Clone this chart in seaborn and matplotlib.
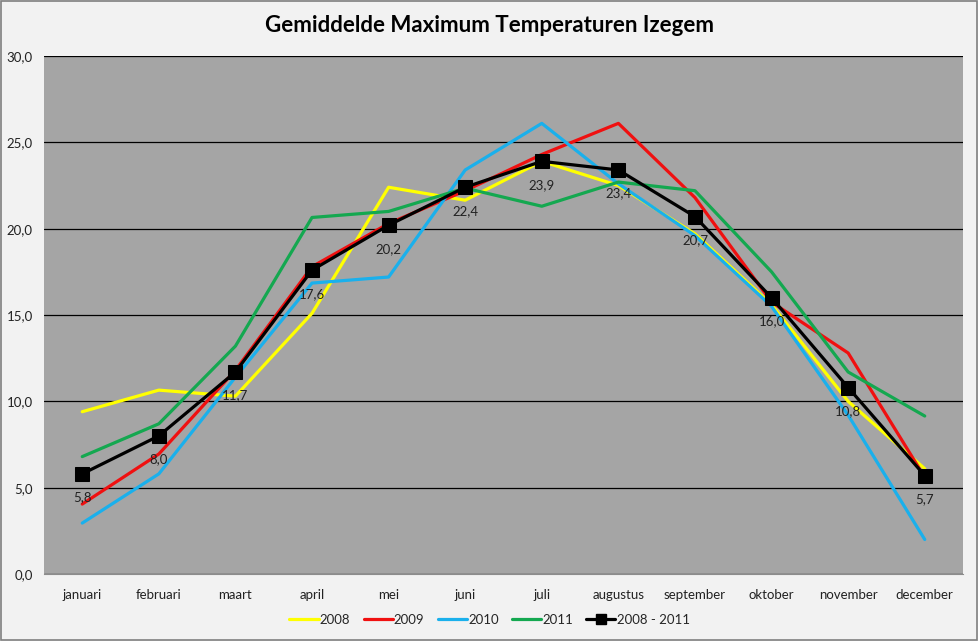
import pandas as pd
import seaborn as sns
import matplotlib.pyplot as plt
from matplotlib.patches import Rectangle

months = ["januari", "februari", "maart", "april", "mei", "juni", "juli",
          "augustus", "september", "oktober", "november", "december"]
t2008 = [9.4, 10.65, 10.3, 15.1, 22.4, 21.65, 23.9, 22.5, 19.7, 15.6, 10.0, 6.1]
t2009 = [4.05, 6.95, 11.8, 17.8, 20.3, 22.2, 24.3, 26.1, 21.8, 15.75, 12.8, 5.6]
t2010 = [2.95, 5.8, 11.4, 16.85, 17.2, 23.4, 26.1, 22.6, 19.6, 15.5, 9.2, 2.0]
t2011 = [6.8, 8.7, 13.2, 20.65, 21.0, 22.35, 21.3, 22.7, 22.2, 17.5, 11.7, 9.15]
avg = [5.8, 8.0, 11.7, 17.6, 20.2, 22.4, 23.9, 23.4, 20.7, 16.0, 10.8, 5.7]

series = {"2008": t2008, "2009": t2009, "2010": t2010, "2011": t2011}
colors = {"2008": "#FFFF00", "2009": "#F01010", "2010": "#1AB0EC", "2011": "#14A850"}

rows = []
for name, vals in series.items():
    for i, v in enumerate(vals):
        rows.append({"pos": i, "temp": v, "serie": name})
df = pd.DataFrame(rows)
df_avg = pd.DataFrame({"pos": range(len(months)), "temp": avg})

sns.set_style("white")
plt.rcParams["font.family"] = ["Lato", "DejaVu Sans"]

fig = plt.figure(figsize=(9.79, 6.41), dpi=100, facecolor="#F2F2F2")
ax = fig.add_axes([0.0449, 0.1045, 0.9388, 0.8081])
ax.set_facecolor("#A5A5A5")

sns.lineplot(data=df, x="pos", y="temp", hue="serie", palette=colors,
             linewidth=2.3, ax=ax, legend=False)
sns.lineplot(data=df_avg, x="pos", y="temp", color="black", linewidth=2.3,
             marker="s", markersize=10, markeredgecolor="black", ax=ax, legend=False)

for i, v in enumerate(avg):
    ax.annotate(f"{v:.1f}".replace(".", ","), (i, v), xytext=(0, -17),
                textcoords="offset points", ha="center", va="center",
                fontsize=9.5, color="#222222")

ax.set_xlim(-0.5, 11.5)
ax.set_ylim(0, 30)
ax.set_yticks(range(0, 31, 5))
ax.set_yticklabels([f"{t:.1f}".replace(".", ",") for t in range(0, 31, 5)])
ax.set_xticks(range(len(months)))
ax.set_xticklabels(months)
ax.tick_params(axis="both", length=0, labelsize=9.5, colors="#222222")
ax.tick_params(axis="x", pad=11)
ax.tick_params(axis="y", pad=8)
ax.grid(axis="y", color="black", linewidth=0.9)
ax.set_axisbelow(True)
for s in ["top", "right", "left"]:
    ax.spines[s].set_visible(False)
ax.spines["bottom"].set_color("#8C8C8C")
ax.set_xlabel("")
ax.set_ylabel("")

fig.text(0.5, 0.96, "Gemiddelde Maximum Temperaturen Izegem", ha="center",
         va="center", fontsize=16, fontweight="bold", color="black")

handles = [plt.Line2D([], [], color=colors[k], linewidth=2.3) for k in series]
handles.append(plt.Line2D([], [], color="black", linewidth=2.3, marker="s", markersize=7))
fig.legend(handles, list(series) + ["2008 - 2011"], loc="center",
           bbox_to_anchor=(0.5, 0.033), ncol=5, frameon=False, fontsize=9.5,
           handlelength=2.2, handletextpad=0.1, columnspacing=1.0)

fig.patches.append(Rectangle((0.001, 0.002), 0.997, 0.996, transform=fig.transFigure,
                             fill=False, edgecolor="#7F7F7F", linewidth=1.2))

fig.savefig("out.png", dpi=100, facecolor=fig.get_facecolor())
plt.close()
